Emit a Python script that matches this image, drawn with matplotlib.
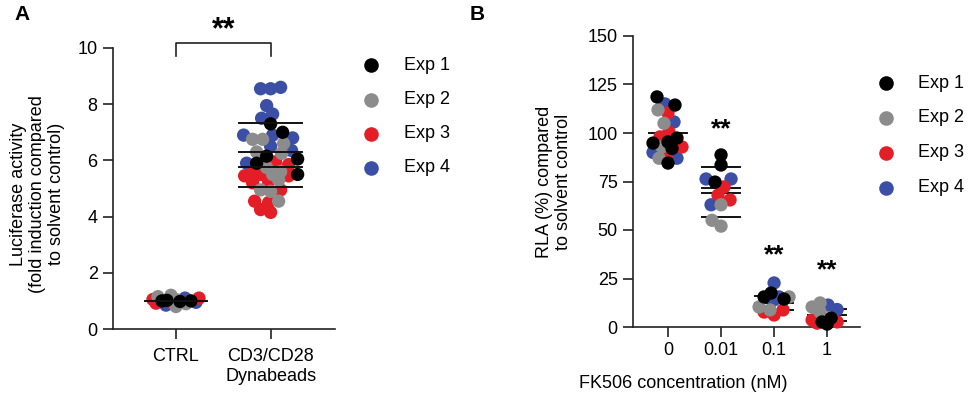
import numpy as np
import matplotlib.pyplot as plt
from matplotlib.lines import Line2D

plt.rcParams['font.family'] = ['Liberation Sans', 'DejaVu Sans']
plt.rcParams['font.size'] = 13

# ---- datos ----
exp_labels = ['Exp 1', 'Exp 2', 'Exp 3', 'Exp 4']
exp_colors = ['#000000', '#8C8C8C', '#E41E26', '#3C4FA6']

# Panel A
a_groups = ['CTRL', 'CD3/CD28\nDynabeads']
a_ctrl = [
    [1.0, 0.98, 1.02, 1.0],
    [0.8, 0.9, 1.05, 1.15, 1.2],
    [1.1, 1.05, 0.95, 0.92],
    [0.85, 1.1, 0.95],
]
a_cd3 = [
    [7.3, 7.0, 6.15, 6.05, 5.9, 5.5],
    [6.75, 6.75, 6.6, 6.3, 6.25, 5.75, 5.6, 5.5, 5.3, 4.95, 4.9, 4.55],
    [5.95, 5.85, 5.55, 5.5, 5.45, 5.45, 5.25, 5.2, 4.95, 4.55, 4.5, 4.25, 4.15],
    [8.6, 8.55, 8.55, 7.95, 7.65, 7.5, 6.9, 6.9, 6.8, 6.5, 6.35, 5.9],
]
a_lines = [[1.0], [7.33, 6.30, 5.76, 5.05]]

# Panel B
b_groups = ['0', '0.01', '0.1', '1']
b_data = [
    [[118.6, 114.4, 97.4, 95.4, 94.8, 92, 84.5],
     [111.9, 105, 92.8, 87],
     [110.3, 100.5, 98, 92.8, 87.6],
     [115, 105.7, 90, 87]],
    [[88.7, 83.5, 74.7],
     [63, 55, 52],
     [72.2, 68, 65.5],
     [76.3, 76.3, 63]],
    [[17.5, 15.5, 14.4],
     [15.5, 10.3, 8.8],
     [8.8, 7.7, 6.2],
     [22.7, 15.5, 14]],
    [[4.6, 2.6, 1.5],
     [12.4, 10.3, 7.7],
     [3.6, 2.6, 2.0],
     [11.3, 9]],
]
b_lines = [[100], [82.5, 71.6, 69.0, 56.7], [16.0, 12.5, 9.0], [9.3, 6.0, 3.1]]
b_stars = [None, 102, 37, 29]

W, H = 969, 399
fig = plt.figure(figsize=(W / 100, H / 100), dpi=100)


def caja(l, t, r, b):
    return [l / W, 1 - b / H, (r - l) / W, (b - t) / H]


def estilo(ax):
    for s in ['top', 'right']:
        ax.spines[s].set_visible(False)
    for s in ['left', 'bottom']:
        ax.spines[s].set_linewidth(1.2)
        ax.spines[s].set_color('#222222')
    ax.tick_params(width=1.2, length=7, color='#222222', labelsize=13, pad=4)


def enjambre(ax, xc, vals, sep=10.0, half=20):
    # coloca los puntos tipo "beeswarm" en pixeles
    tr = ax.transData
    ppx = tr.transform((1, 0))[0] - tr.transform((0, 0))[0]
    vals = np.asarray(vals)
    offs = np.zeros(len(vals))
    placed = []
    cands = sorted(np.arange(-half, half + 0.5, 1.0), key=lambda c: (abs(c), c))
    for i in np.argsort(vals):
        px, py = tr.transform((xc, vals[i]))
        best, bestd = 0.0, -1.0
        for c in cands:
            d = min([np.hypot(px + c - qx, py - qy) for qx, qy in placed], default=1e9)
            if d >= sep:
                best = c
                break
            if d > bestd:
                best, bestd = c, d
        placed.append((px + best, py))
        offs[i] = best / ppx
    return offs


def dibujar_grupo(ax, xc, grupos, half):
    todos = np.concatenate(grupos)
    quien = np.concatenate([[k] * len(g) for k, g in enumerate(grupos)])
    offs = enjambre(ax, xc, todos, half=half)
    for k in [3, 2, 1, 0]:
        m = quien == k
        ax.scatter(xc + offs[m], todos[m], s=92, color=exp_colors[k],
                   edgecolors='none', zorder=3, clip_on=False)


# ---- Panel A ----
axA = fig.add_axes(caja(113, 48, 335, 329))
estilo(axA)
axA.tick_params(axis='x', pad=7)
axA.set_xlim(-0.665, 1.68)
axA.set_ylim(0, 10)
axA.set_yticks([0, 2, 4, 6, 8, 10])
axA.set_xticks([0, 1])
axA.set_xticklabels(a_groups)
dibujar_grupo(axA, 0, a_ctrl, 23)
dibujar_grupo(axA, 1, a_cd3, 27)
for i, ls in enumerate(a_lines):
    for v in ls:
        axA.plot([i - 0.33, i + 0.33], [v, v], color='#111111', lw=1.4, zorder=4)
axA.set_ylabel('Luciferase activity\n(fold induction compared\nto solvent control)',
               fontsize=13, linespacing=1.15)
axA.yaxis.set_label_coords(-0.215, 0.48)
# corchete de significancia
axA.plot([0, 0, 1, 1], [9.72, 10.18, 10.18, 9.72], color='#222222', lw=1.2, clip_on=False)
axA.text(0.5, 10.62, '**', ha='center', va='center', fontsize=22, fontweight='bold')

# ---- Panel B ----
axB = fig.add_axes(caja(633, 36, 860, 327))
estilo(axB)
axB.set_xlim(-0.66, 3.62)
axB.set_ylim(0, 150)
axB.set_yticks([0, 25, 50, 75, 100, 125, 150])
axB.set_xticks(range(4))
axB.set_xticklabels(b_groups)
for i, g in enumerate(b_data):
    dibujar_grupo(axB, i, g, 15)
    for v in b_lines[i]:
        axB.plot([i - 0.36, i + 0.36], [v, v], color='#111111', lw=1.4, zorder=2)
    if b_stars[i] is not None:
        axB.text(i, b_stars[i], '**', ha='center', va='center', fontsize=19, fontweight='bold')
axB.set_ylabel('RLA (%) compared\nto solvent control', fontsize=13, linespacing=1.15)
axB.yaxis.set_label_coords(-0.27, 0.5)
axB.set_xlabel('FK506 concentration (nM)', fontsize=13)
axB.xaxis.set_label_coords((683 - 633) / 227, -0.165)

# ---- leyendas ----
for (mx, tx, ys) in [(371, 404, [65, 100, 134, 168]), (886, 918, [83, 118, 153, 188])]:
    for k in range(4):
        fig.add_artist(Line2D([mx / W], [1 - ys[k] / H], marker='o', ms=10.5,
                              color=exp_colors[k], mec='none', ls='none',
                              transform=fig.transFigure))
        fig.text(tx / W, 1 - ys[k] / H, exp_labels[k], ha='left', va='center', fontsize=13)

fig.text(14 / W, 1 - 14 / H, 'A', fontsize=15, fontweight='bold', va='center')
fig.text(470 / W, 1 - 14 / H, 'B', fontsize=15, fontweight='bold', va='center')

fig.savefig('out.png', dpi=100)
